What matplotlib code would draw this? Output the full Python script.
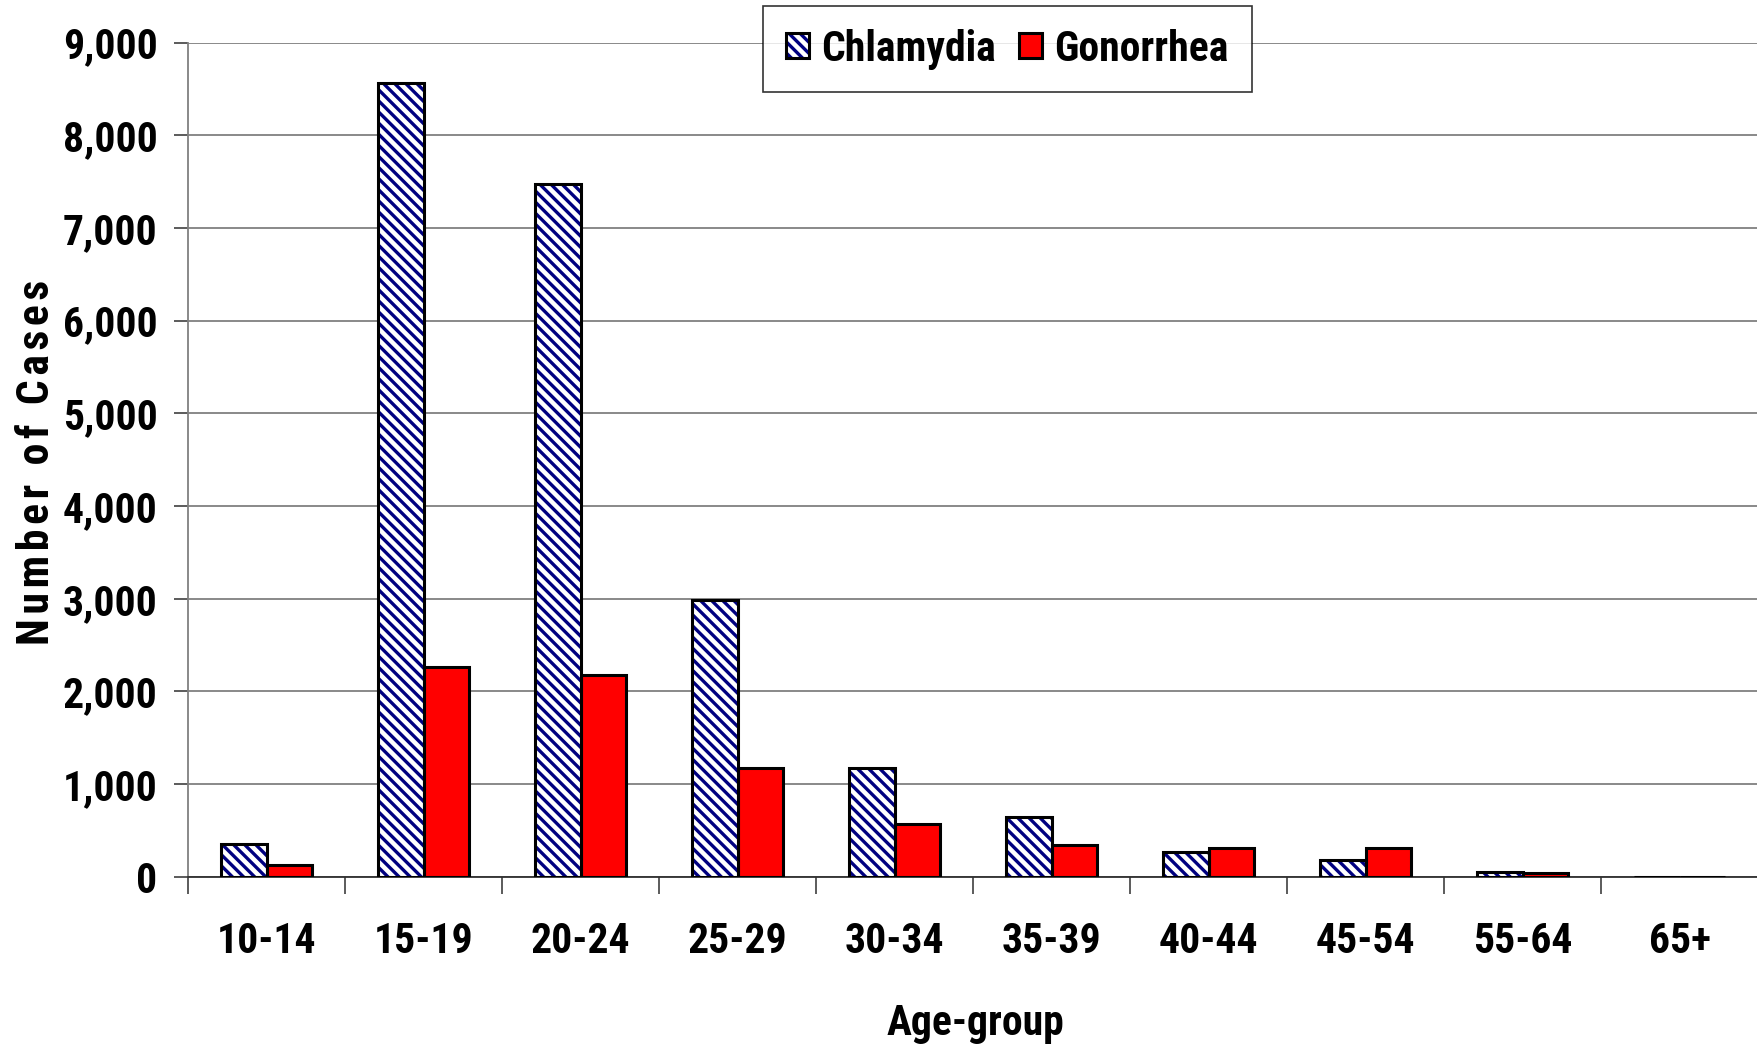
import matplotlib
matplotlib.use('agg')
import matplotlib.pyplot as plt
from matplotlib import font_manager
from matplotlib.font_manager import FontProperties
from matplotlib.legend_handler import HandlerTuple
from matplotlib.ticker import FuncFormatter
import numpy as np

age_groups = ['10-14', '15-19', '20-24', '25-29', '30-34', '35-39',
              '40-44', '45-54', '55-64', '65+']
chlamydia = [350, 8560, 7475, 2990, 1175, 650, 262, 180, 50, 0]
gonorrhea = [128, 2262, 2177, 1175, 568, 345, 305, 305, 45, 0]

# Arial Narrow Bold look-alike, first one found
family = 'Liberation Sans'
for cand in ['Liberation Sans Narrow', 'Arial Narrow', 'Roboto Condensed',
             'PT Sans Narrow', 'Archivo Narrow']:
    try:
        font_manager.fontManager.findfont(FontProperties(family=cand, weight='bold'),
                                          fallback_to_default=False)
        family = cand
        break
    except Exception:
        pass

plt.rcParams['font.family'] = [family, 'DejaVu Sans']
plt.rcParams['font.weight'] = 'bold'
plt.rcParams['hatch.linewidth'] = 2.4

navy = '#000080'
fs = 30

fig = plt.figure(figsize=(17.58, 10.5), dpi=100)
ax = fig.add_axes([0.107, 0.165, 0.893, 0.7945])

x = np.arange(len(age_groups))
w = 0.29
# hatch layer (navy stripes) + black outline layer
chl_h = ax.bar(x - w/2, chlamydia, w, facecolor='white', edgecolor=navy,
               linewidth=0, hatch='\\\\\\', zorder=3)
chl_o = ax.bar(x - w/2, chlamydia, w, fill=False, edgecolor='black',
               linewidth=2.2, zorder=4)
gon = ax.bar(x + w/2, gonorrhea, w, facecolor='#ff0000', edgecolor='black',
             linewidth=2.2, zorder=3)

ax.set_xlim(-0.5, len(age_groups) - 0.5)
ax.set_ylim(0, 9000)
ax.set_yticks(np.arange(0, 9001, 1000))
ax.yaxis.set_major_formatter(FuncFormatter(lambda v, p: f'{int(v):,}'))
ax.grid(axis='y', color='#808080', linewidth=1.3, zorder=0)

# category labels centred, tick marks on group boundaries
ax.set_xticks(np.arange(len(age_groups) + 1) - 0.5)
ax.set_xticklabels([])
ax.set_xticks(x, minor=True)
ax.set_xticklabels(age_groups, minor=True)
ax.tick_params(axis='x', which='major', length=12, width=1.2, color='#404040', direction='out')
ax.tick_params(axis='x', which='minor', length=0, pad=32, labelsize=fs)
ax.tick_params(axis='y', length=10, width=1.2, color='#404040', labelsize=fs, pad=12)

for s in ['top', 'right']:
    ax.spines[s].set_visible(False)
ax.spines['left'].set_color('#808080')
ax.spines['left'].set_linewidth(1.3)
ax.spines['bottom'].set_color('#303030')
ax.spines['bottom'].set_linewidth(1.3)

hair = '\u200a'
ylab = hair.join('Number of Cases')
ax.set_ylabel(ylab, fontsize=31.5, fontweight='bold', va='center')
ax.yaxis.set_label_coords(0.021, 0.56, transform=fig.transFigure)
ax.set_xlabel('Age-group', fontsize=fs, fontweight='bold', va='center')
ax.xaxis.set_label_coords(0.555, 0.025, transform=fig.transFigure)

leg = ax.legend([(chl_h, chl_o), gon], ['Chlamydia', 'Gonorrhea'],
                handler_map={tuple: HandlerTuple(ndivide=1, pad=0)},
                loc='center', bbox_to_anchor=(0.573, 0.9533),
                bbox_transform=fig.transFigure, ncol=2,
                fontsize=fs, frameon=True, fancybox=False, edgecolor='black',
                handlelength=0.55, handleheight=0.55, handletextpad=0.3,
                columnspacing=0.55, borderpad=0.55, borderaxespad=0)
leg.get_frame().set_linewidth(1.2)

fig.savefig('out.png', dpi=100, facecolor='white')
